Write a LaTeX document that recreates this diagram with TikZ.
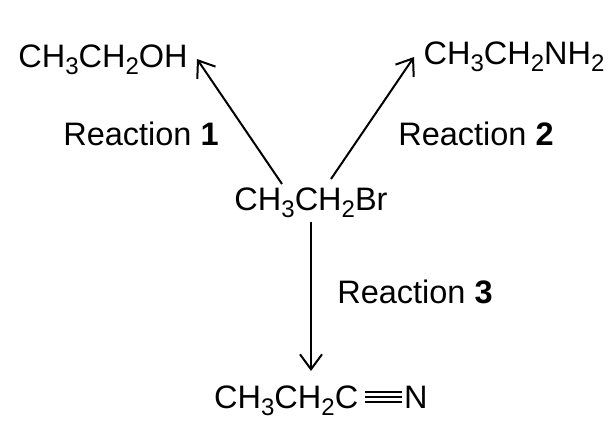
\documentclass[tikz,border=0pt]{standalone}
\usepackage{fontspec}
\setmainfont{Liberation Sans}
\usepackage{tikz}
\usetikzlibrary{
  arrows.meta
}
\newcommand{\subs}[1]{\raisebox{-7pt}{\fontsize{24}{26}\selectfont #1}}

\begin{document}
\begin{tikzpicture}[x=1pt,y=-1pt,
        chem/.style={inner sep=0pt,anchor=base,font=\fontsize{32.5}{38}\selectfont},
        reaction/.style={inner sep=0pt,anchor=base,font=\fontsize{32.5}{38}\selectfont},
        link/.style={-{Straight Barb[length=15pt,width=22pt]},line width=2pt}
      ]
      \useasboundingbox (0,0) rectangle (616,426);

      % formulas
      \node[chem] (ethanol) at (103,67) {CH\subs{3}CH\subs{2}OH};
      \node[chem] (amine) at (514,64) {CH\subs{3}CH\subs{2}NH\subs{2}};
      \node[chem] (bromide) at (311,210) {CH\subs{3}CH\subs{2}Br};
      \node[chem,anchor=base west] (nitrile) at (214,408) {CH\subs{3}CH\subs{2}C};
      \node[chem,anchor=base west] (nitrogen) at (404,408) {N};

      % triple bond
      \foreach \dy in {6,11,16}{
        \draw[line width=1.7pt] ([yshift=\dy pt,xshift=7pt]nitrile.base east) -- ([yshift=\dy pt,xshift=-2pt]nitrogen.base west);
      }

      % reaction labels
      \node[reaction] (reaction1) at (141,145) {Reaction \textbf{1}};
      \node[reaction] (reaction2) at (476,145) {Reaction \textbf{2}};
      \node[reaction] (reaction3) at (415,303) {Reaction \textbf{3}};

      % arrows
      \coordinate (head1) at (197,59);
      \coordinate (head2) at (414,57);
      \coordinate (head3) at (311,371);
      \coordinate (tail1) at ([xshift=-29pt,yshift=26pt]bromide.base);
      \coordinate (tail2) at ([xshift=20pt,yshift=31pt]bromide.base);
      \coordinate (tail3) at ([yshift=-12pt]bromide.base);
      \draw[link] (tail1) -- (head1);
      \draw[link] (tail2) -- (head2);
      \draw[link] (tail3) -- (head3);

    \end{tikzpicture}
\end{document}
